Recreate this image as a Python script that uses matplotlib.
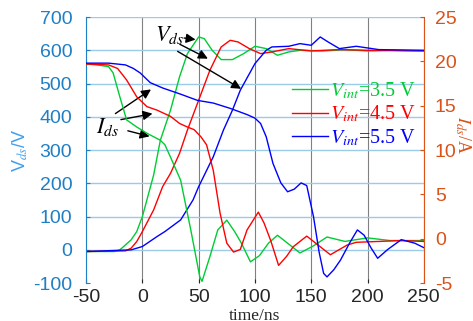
import matplotlib.pyplot as plt
from matplotlib.lines import Line2D

plt.rcParams['font.family'] = ['Liberation Sans', 'DejaVu Sans']
plt.rcParams['mathtext.fontset'] = 'stix'
plt.rcParams['axes.unicode_minus'] = False

# Vds (left axis, V)
t_vg = [-50, -25, -20, -10, -5, 0, 10, 16, 25, 33, 40, 50, 55, 62, 70, 80, 90, 100, 110, 120, 130, 140, 160, 180, 200, 220, 250]
v_g = [-5, -5, 0, 30, 55, 100, 225, 330, 420, 520, 590, 640, 635, 600, 572, 572, 590, 612, 605, 585, 595, 600, 598, 602, 598, 600, 598]
t_vr = [-50, -15, -10, -5, 0, 10, 18, 25, 33, 40, 50, 60, 70, 78, 85, 95, 105, 115, 130, 150, 175, 200, 250]
v_r = [-5, -3, 5, 25, 55, 120, 190, 230, 290, 360, 450, 540, 610, 630, 625, 605, 590, 595, 605, 598, 602, 600, 598]
t_vb = [-50, -10, 0, 13, 20, 34, 45, 50, 63, 72, 80, 87, 100, 110, 115, 130, 140, 150, 158, 165, 175, 190, 210, 250]
v_b = [-5, 0, 10, 40, 55, 90, 150, 190, 280, 360, 420, 480, 560, 600, 610, 612, 620, 615, 640, 625, 605, 612, 602, 600]

# Ids (right axis, A)
t_ig = [-50, -40, -30, -26, -20, -14, -5, 4, 16, 20, 25, 34, 43, 51, 53, 60, 67, 75, 82, 88, 96, 104, 112, 120, 129, 140, 152, 164, 180, 200, 220, 250]
i_g = [19.7, 19.6, 19.4, 18.7, 16.0, 13.4, 12.6, 11.9, 11.1, 10.6, 9.2, 6.6, 1.0, -4.3, -4.8, -2.0, 1.0, 2.1, 0.8, -0.5, -2.6, -1.9, -0.5, 0.4, -0.5, -1.6, -0.8, 0.2, -0.3, 0.1, -0.2, -0.2]
t_ir = [-50, -30, -22, -14, -5, 4, 13, 25, 33, 40, 46, 52, 57, 63, 69, 75, 81, 87, 93, 103, 108, 114, 121, 128, 134, 146, 158, 167, 182, 190, 210, 230, 250]
i_r = [19.7, 19.6, 19.2, 17.9, 16.0, 14.9, 14.5, 13.8, 13.0, 12.6, 12.3, 11.5, 10.6, 7.7, 2.9, -0.5, -1.5, -1.2, 1.0, 3.0, 1.8, -0.2, -3.0, -2.0, -0.9, 0.3, -0.9, -1.8, -0.7, -0.4, -0.3, -0.2, -0.3]
t_ib = [-50, -30, -15, -8, -2, 7, 18, 34, 49, 63, 78, 93, 100, 105, 110, 116, 123, 129, 135, 141, 146, 152, 157, 161, 164, 170, 176, 184, 191, 197, 203, 209, 218, 230, 242, 250]
i_b = [19.8, 19.8, 19.6, 19.2, 18.7, 17.6, 17.0, 16.3, 15.6, 15.3, 14.7, 14.0, 13.6, 13.0, 11.5, 8.5, 6.3, 5.3, 5.6, 6.3, 6.0, 2.5, -1.5, -3.9, -4.3, -3.5, -2.4, -0.5, 1.0, 0.4, -1.0, -2.2, -1.2, -0.1, -0.5, -1.0]

labels = [r'$V_{int}$=3.5 V', r'$V_{int}$=4.5 V', r'$V_{int}$=5.5 V']
colors = ['#00cc33', '#ff0000', '#0000ff']
c_left = '#1f7fc4'
c_right = '#d95319'

fig = plt.figure(figsize=(4.73, 3.21), dpi=100)
ax = fig.add_axes([0.182, 0.118, 0.714, 0.829])
ax2 = ax.twinx()

for tt, vv, c in zip([t_vg, t_vr, t_vb], [v_g, v_r, v_b], colors):
    ax.plot(tt, vv, color=c, lw=1)
for tt, ii, c in zip([t_ig, t_ir, t_ib], [i_g, i_r, i_b], colors):
    ax2.plot(tt, ii, color=c, lw=1)

ax.set_xlim(-50, 250)
ax.set_ylim(-100, 700)
ax2.set_ylim(-5, 25)
ax.set_xticks(range(-50, 251, 50))
ax.set_yticks(range(-100, 701, 100))
ax2.set_yticks(range(-5, 26, 5))

ax.grid(axis='y', color='#9ccbe8', lw=1)
ax.grid(axis='x', color='#808080', lw=0.8)
ax.get_ygridlines()[0].set_visible(False)

for s in ['top', 'bottom']:
    ax.spines[s].set_visible(False)
    ax2.spines[s].set_visible(False)
ax2.spines['left'].set_visible(False)
ax.spines['right'].set_visible(False)
ax.spines['left'].set_color(c_left)
ax2.spines['right'].set_color(c_right)

ax.tick_params(axis='y', colors=c_left, labelsize=14, direction='in', length=3, pad=10)
ax.tick_params(axis='x', colors='#262626', labelsize=14, direction='in', length=3, pad=4)
ax2.tick_params(axis='y', colors=c_right, labelsize=14, direction='in', length=3, pad=8)

ax.set_ylabel(r'V$_{ds}$/V', color='#3f9fef', fontsize=13)
ax.yaxis.set_label_coords(-0.166, 0.5)
ax2.set_ylabel(r'$I_{ds}$/A', color=c_right, fontsize=13, rotation=270,
               family='Liberation Serif')
ax2.yaxis.set_label_coords(1.145, 0.556)
ax.set_xlabel('time/ns', fontsize=12.5, family='Liberation Serif', color='#262626')
ax.xaxis.set_label_coords(0.5, -0.092)

# annotations
ax.text(11, 646, r'$V_{ds}$', fontsize=16, va='center')
arrow = dict(arrowstyle='-|>', color='black', lw=1, mutation_scale=14)
ax.annotate('', xy=(49.7, 631), xytext=(34.6, 638), arrowprops=arrow)
ax.annotate('', xy=(60.4, 571), xytext=(31, 622), arrowprops=arrow)
ax.annotate('', xy=(89.8, 480), xytext=(29.2, 601), arrowprops=arrow)

ax.text(-31, 369, r'$I_{ds}$', fontsize=16, va='center', ha='center')
ax.annotate('', xy=(9.7, 487), xytext=(-26, 405), arrowprops=arrow)
ax.annotate('', xy=(11.4, 411), xytext=(-21.5, 390), arrowprops=arrow)
ax.annotate('', xy=(8.8, 339), xytext=(-15.3, 360), arrowprops=arrow)

handles = [Line2D([], [], color=c, lw=1) for c in colors]
leg = ax2.legend(handles, labels, loc='upper left', bbox_to_anchor=(0.555, 0.83),
                 frameon=False, handlelength=1.8, handletextpad=0.1,
                 labelspacing=0.15, prop={'family': 'Liberation Serif', 'size': 14.5})
for txt, c in zip(leg.get_texts(), colors):
    txt.set_color(c)

fig.savefig('out.png', dpi=100)
